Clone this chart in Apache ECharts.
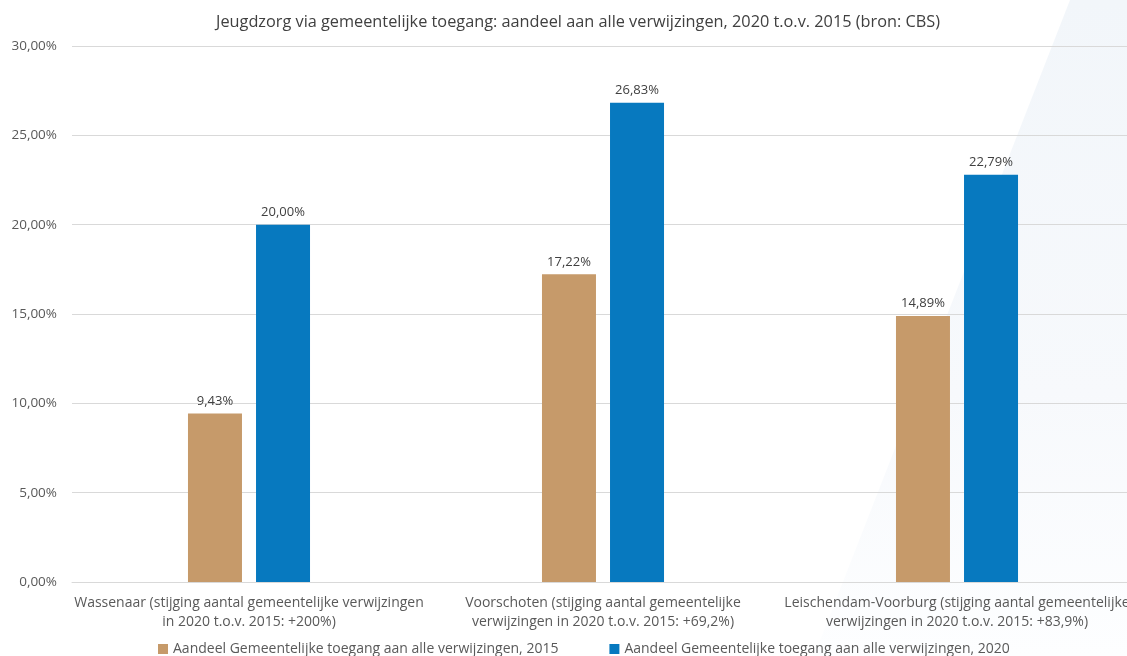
<!DOCTYPE html>
<html><head><meta charset="utf-8">
<script src="https://cdn.jsdelivr.net/npm/echarts@6/dist/echarts.min.js"></script>
<style>html,body{margin:0;padding:0;background:#fff}#c{width:1127px;height:656px}</style>
</head><body><div id="c"></div>
<script>
const categories = [
  "Wassenaar (stijging aantal gemeentelijke verwijzingen\nin 2020 t.o.v. 2015: +200%)",
  "Voorschoten (stijging aantal gemeentelijke\nverwijzingen in 2020 t.o.v. 2015: +69,2%)",
  "Leischendam-Voorburg (stijging aantal gemeentelijke\nverwijzingen in 2020 t.o.v. 2015: +83,9%)"
];
const seriesNames = ["Aandeel Gemeentelijke toegang aan alle verwijzingen, 2015", "Aandeel Gemeentelijke toegang aan alle verwijzingen, 2020"];
const values2015 = [9.43, 17.22, 14.89];
const values2020 = [20.00, 26.83, 22.79];
const yTicks = { min: 0, max: 30, interval: 5 };
const fmt = v => v.toFixed(2).replace('.', ',') + '%';
const font = "'Open Sans', 'Noto Sans', sans-serif";
const chart = echarts.init(document.getElementById('c'));
chart.setOption({
  animation: false,
  textStyle: { fontFamily: font },
  graphic: [{
    type: 'polygon', z: -10, silent: true,
    shape: { points: [[1070, 0], [1127, 0], [1127, 656], [814, 656]] },
    style: { fill: { type: 'linear', x: 0, y: 0, x2: 0, y2: 1, colorStops: [{ offset: 0, color: '#f2f6fa' }, { offset: 0.6, color: '#f7f9fc' }, { offset: 1, color: '#fdfeff' }] } }
  }],
  title: {
    text: 'Jeugdzorg via gemeentelijke toegang: aandeel aan alle verwijzingen, 2020 t.o.v. 2015 (bron: CBS)',
    left: 573, top: 9, textAlign: 'center',
    textStyle: { fontFamily: font, fontSize: 16.3, fontWeight: 'normal', color: '#404040' }
  },
  legend: {
    bottom: -5, left: 153, itemGap: 51, itemWidth: 10, itemHeight: 10, icon: 'rect',
    textStyle: { fontFamily: font, fontSize: 14, color: '#595959' },
    data: seriesNames
  },
  grid: { left: 72, top: 46, width: 1062, height: 536, outerBoundsMode: 'none' },
  xAxis: {
    type: 'category', data: categories,
    axisLine: { lineStyle: { color: '#d9d9d9' } },
    axisTick: { show: false },
    axisLabel: { fontFamily: font, fontSize: 14, color: '#595959', lineHeight: 19, margin: 12, interval: 0 }
  },
  yAxis: {
    type: 'value', min: yTicks.min, max: yTicks.max, interval: yTicks.interval,
    axisLine: { show: false }, axisTick: { show: false },
    splitLine: { lineStyle: { color: '#d9d9d9' } },
    axisLabel: { fontFamily: font, fontSize: 13.5, color: '#595959', margin: 15, formatter: v => fmt(v) }
  },
  series: [
    { name: seriesNames[0], type: 'bar', data: values2015, barWidth: 54, barGap: '26%',
      itemStyle: { color: '#C69A6A' },
      label: { show: true, position: 'top', distance: 6, fontFamily: font, fontSize: 13, color: '#404040', formatter: p => fmt(p.value) } },
    { name: seriesNames[1], type: 'bar', data: values2020, barWidth: 54,
      itemStyle: { color: '#0779BF' },
      label: { show: true, position: 'top', distance: 6, fontFamily: font, fontSize: 13, color: '#404040', formatter: p => fmt(p.value) } }
  ]
});
</script></body></html>
